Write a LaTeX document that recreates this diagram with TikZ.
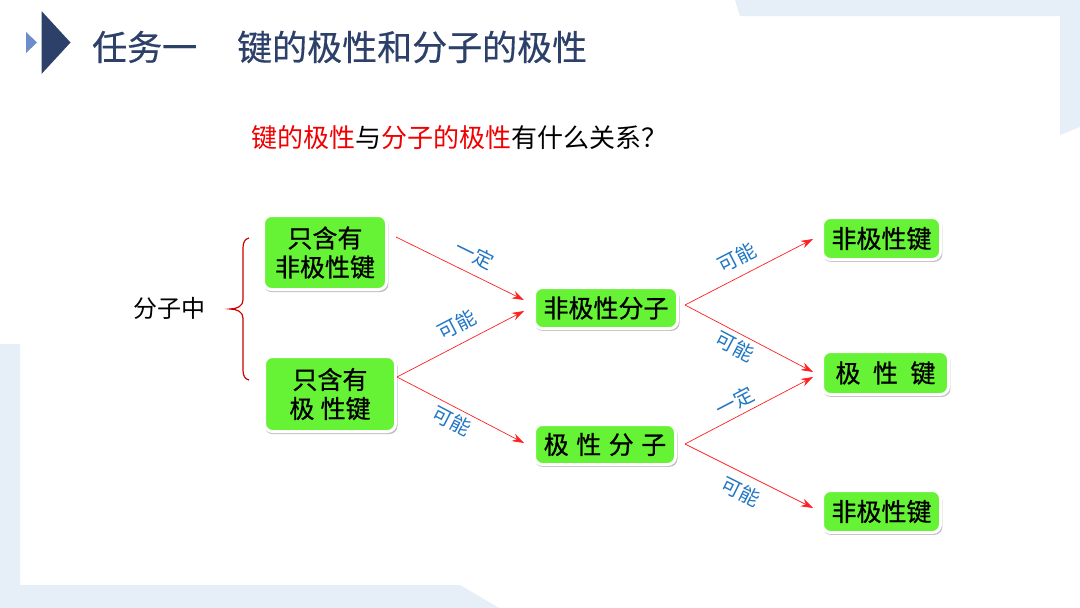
\documentclass[tikz,border=0pt]{standalone}
\usepackage{fontspec}
\setmainfont{Noto Sans CJK SC}
\newfontfamily\boxfont[FakeBold=0.8]{Noto Sans CJK SC}
\newfontfamily\titlefont[FakeBold=0.4]{Noto Sans CJK SC}
\usetikzlibrary{shadows,arrows.meta,calc}
\definecolor{bgblue}{HTML}{E6EEF8}
\definecolor{navy}{HTML}{2C4069}
\definecolor{lightnavy}{HTML}{6B8DC9}
\definecolor{boxgreen}{HTML}{66F235}
\definecolor{lblblue}{HTML}{2277C5}
\definecolor{arrred}{HTML}{FF2020}
\definecolor{qred}{HTML}{F00000}
\begin{document}
\begin{tikzpicture}[x=1pt,y=-1pt,
  box/.style={rounded corners=8pt, fill=boxgreen, draw=white, line width=3pt,
    drop shadow={shadow xshift=1pt, shadow yshift=-2pt, shadow scale=1.015, opacity=0.35, fill=black!70},
    inner sep=0pt, outer sep=0pt, align=center,
    font=\boxfont\fontsize{25}{29}\selectfont, text=black},
  conn/.style={draw=arrred, line width=0.7pt, -{Stealth[length=12pt,width=8pt,inset=4pt]}},
  lbl/.style={sloped, text=lblblue, font=\fontsize{20}{22}\selectfont, inner sep=1pt},
  brc/.style={draw=qred!85!black, line width=1.2pt},
  bgshape/.style={fill=bgblue, draw=none},
]
\useasboundingbox (0,0) rectangle (1080,608);
\fill[white] (0,0) rectangle (1080,608);
% background decoration
\fill[bgshape] (735,0) -- (1080,0) -- (1080,127) -- (1060,135) -- (1060,16) -- (740,16) -- cycle;
\fill[bgshape] (0,344) -- (20,344) -- (20,585) -- (460,585) -- (499,608) -- (0,608) -- cycle;
% title
\fill[lightnavy] (26,32) -- (26,53) -- (37,42.5) -- cycle;
\fill[navy] (41.5,11) -- (41.5,74) -- (70.5,42.5) -- cycle;
\node[anchor=west, inner sep=0pt, text=navy, font=\titlefont\fontsize{35}{40}\selectfont] (t1) at (92,47) {任务一};
\node[anchor=west, inner sep=0pt, text=navy, font=\titlefont\fontsize{35}{40}\selectfont] (t2) at (237,47) {键的极性和分子的极性};
% question
\node[inner sep=0pt, font=\fontsize{26}{30}\selectfont] (q) at (459,138)
  {\textcolor{qred}{键的极性}与\textcolor{qred}{分子的极性}有什么关系？};
% left label and brace
\node[inner sep=0pt, font=\fontsize{24}{28}\selectfont] (fz) at (169,308) {分子中};
\draw[brc] (249,238) .. controls (245,239) and (243,242) .. (243,248) -- (243,300)
  .. controls (243,306) and (237,309) .. (230,309)
  .. controls (237,309) and (243,312) .. (243,318) -- (243,370)
  .. controls (243,376) and (245,379) .. (249,380);
% boxes
\node[box, minimum width=123pt, minimum height=74pt] (A) at (325,252.5) {只含有\\非极性键};
\node[box, minimum width=131pt, minimum height=75pt] (B) at (330,394) {只含有\\极\hspace{0.25em}性键};
\node[box, minimum width=143pt, minimum height=41pt] (C) at (606,308) {非极性分子};
\node[box, minimum width=141pt, minimum height=40pt] (D) at (605,444.5) {极\hspace{0.3em}性\hspace{0.3em}分\hspace{0.3em}子};
\node[box, minimum width=118pt, minimum height=42pt] (E) at (881.5,238.5) {非极性键};
\node[box, minimum width=126pt, minimum height=43pt] (F) at (885.5,373) {极\hspace{0.5em}性\hspace{0.5em}键};
\node[box, minimum width=118pt, minimum height=42pt] (G) at (881.5,511.5) {非极性键};
% connectors
\draw[conn] ([shift={(9.5,-15.5)}]A.east) -- node[lbl, pos=0.55, above=8pt] {一定} ([shift={(-10.5,-8)}]C.west);
\draw[conn] ([shift={(1.5,-17)}]B.east) -- node[lbl, pos=0.54, above=8pt] {可能} ([shift={(-10.5,3)}]C.west);
\draw[conn] ([shift={(1.5,-17)}]B.east) -- node[lbl, pos=0.48, below=3pt] {可能} ([shift={(-10.5,-1.5)}]D.west);
\draw[conn] ([shift={(7.5,-3)}]C.east) -- node[lbl, pos=0.47, above=8pt] {可能} ([shift={(-9.5,0.5)}]E.west);
\draw[conn] ([shift={(7.5,-3)}]C.east) -- node[lbl, pos=0.44, below=3pt] {可能} ([shift={(-9.5,-1)}]F.west);
\draw[conn] ([shift={(9.5,-0.5)}]D.east) -- node[lbl, pos=0.44, above=4pt] {一定} ([shift={(-9.5,4)}]F.west);
\draw[conn] ([shift={(9.5,-0.5)}]D.east) -- node[lbl, pos=0.5, below=7pt] {可能} ([shift={(-9.5,-3.5)}]G.west);
\end{tikzpicture}
\end{document}
